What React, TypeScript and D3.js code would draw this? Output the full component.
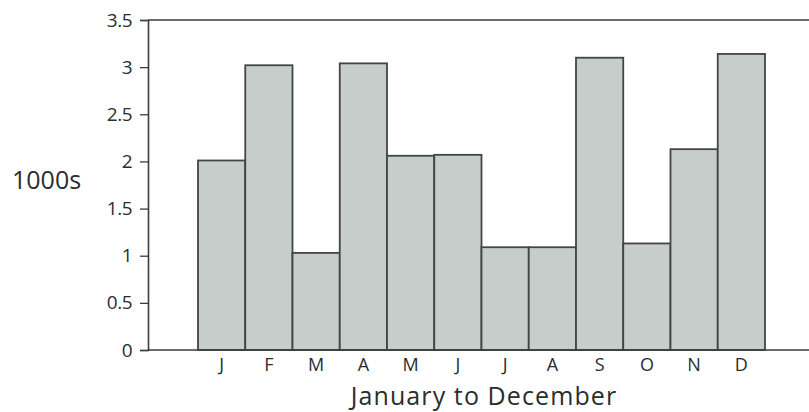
import React, { useEffect, useRef } from 'react';
import * as d3 from 'd3';

// months and the values (thousands)
const months = ['J', 'F', 'M', 'A', 'M', 'J', 'J', 'A', 'S', 'O', 'N', 'D'];
const values = [2.01, 3.02, 1.03, 3.04, 2.06, 2.07, 1.09, 1.09, 3.1, 1.13, 2.13, 3.14];
const yTicks = [0, 0.5, 1, 1.5, 2, 2.5, 3, 3.5];

const W = 809;
const H = 412;
const FONT = '"Open Sans", "DejaVu Sans", sans-serif';
const INK = '#2b2d2c';

export default function App() {
  const ref = useRef<SVGSVGElement>(null);

  useEffect(() => {
    const svg = d3.select(ref.current);
    svg.selectAll('*').remove();

    const x = d3.scaleBand<number>()
      .domain(months.map((d, i) => i))
      .range([198, 765])
      .padding(0);

    const y = d3.scaleLinear().domain([0, 3.5]).range([350, 20]);

    // bars
    svg.append('g')
      .selectAll('rect')
      .data(values)
      .enter()
      .append('rect')
      .attr('x', (d, i) => x(i)!)
      .attr('y', d => y(d))
      .attr('width', x.bandwidth())
      .attr('height', d => y(0) - y(d))
      .style('fill', '#c6cdca')
      .style('stroke', '#414644')
      .style('stroke-width', 1.8);

    // top border and baseline
    svg.append('line')
      .attr('x1', 148).attr('x2', W)
      .attr('y1', y(3.5)).attr('y2', y(3.5))
      .style('stroke', '#3a3e3c').style('stroke-width', 1.6);
    svg.append('line')
      .attr('x1', 148).attr('x2', W)
      .attr('y1', y(0)).attr('y2', y(0))
      .style('stroke', '#3a3e3c').style('stroke-width', 1.6);

    // y axis
    const yAxis = svg.append('g')
      .attr('transform', 'translate(148,0)')
      .call(d3.axisLeft(y).tickValues(yTicks).tickSize(8).tickPadding(8).tickFormat(d => String(d)));
    yAxis.select('.domain').style('stroke', '#3a3e3c').style('stroke-width', 1.6);
    yAxis.selectAll('.tick line').style('stroke', '#3a3e3c').style('stroke-width', 1.3);
    yAxis.selectAll('.tick text')
      .style('font-family', FONT)
      .style('font-size', '19px')
      .style('letter-spacing', '-0.5px')
      .style('fill', INK);

    // x axis labels
    const xAxis = svg.append('g')
      .attr('transform', `translate(0,${y(0)})`)
      .call(d3.axisBottom(x).tickSize(0).tickPadding(8).tickFormat(i => months[i as number]));
    xAxis.select('.domain').remove();
    xAxis.selectAll('.tick text')
      .style('font-family', FONT)
      .style('font-size', '18px')
      .style('fill', INK);

    // axis titles
    svg.append('text')
      .attr('x', 12)
      .attr('y', 189)
      .style('font-family', FONT)
      .style('font-size', '25px')
      .style('fill', INK)
      .text('1000s');

    svg.append('text')
      .attr('x', 484)
      .attr('y', 405)
      .style('font-family', FONT)
      .style('font-size', '25px')
      .style('letter-spacing', '1.1px')
      .style('fill', INK)
      .style('text-anchor', 'middle')
      .text('January to December');
  }, []);

  return (
    <svg
      ref={ref}
      width={W}
      height={H}
      style={{ position: 'absolute', left: 0, top: 0, background: '#fff' }}
    />
  );
}
